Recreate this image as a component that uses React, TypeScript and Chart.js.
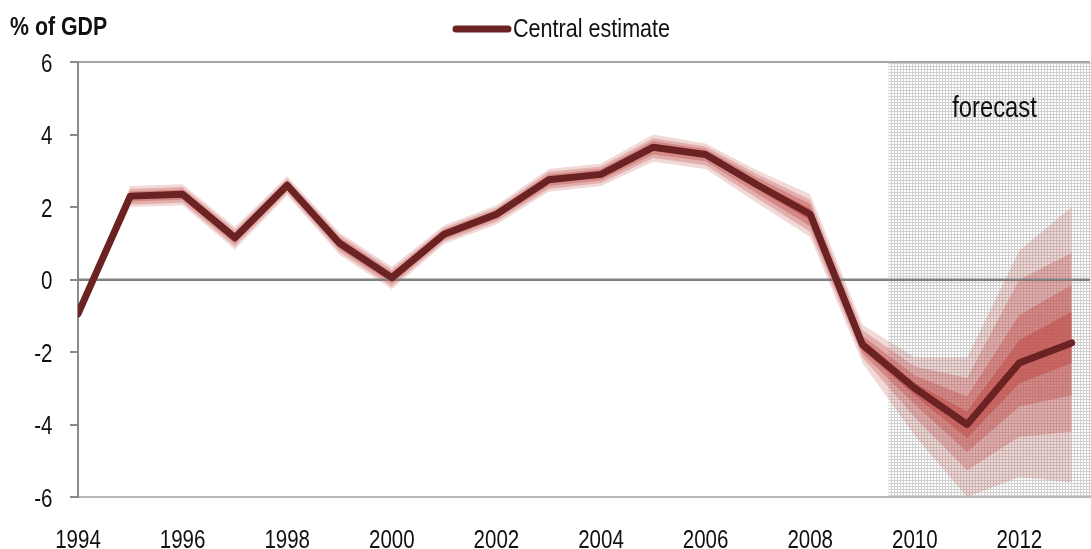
import React, { useEffect, useRef } from "react";
import { Chart, registerables } from "chart.js";

Chart.register(...registerables);

const years = [1994, 1995, 1996, 1997, 1998, 1999, 2000, 2001, 2002, 2003, 2004, 2005, 2006, 2007, 2008, 2009, 2010, 2011, 2012, 2013];
const xTickYears = [1994, 1996, 1998, 2000, 2002, 2004, 2006, 2008, 2010, 2012];
const yTickValues = [-6, -4, -2, 0, 2, 4, 6];
const forecastStart = 2009.5;

const central = [-0.95, 2.3, 2.35, 1.15, 2.6, 1.0, 0.05, 1.25, 1.8, 2.75, 2.9, 3.65, 3.45, 2.6, 1.8, -1.8, -3.0, -4.0, -2.3, -1.75];

const upper4 = [-0.85, 2.58, 2.63, 1.45, 2.85, 1.3, 0.35, 1.5, 2.05, 3.05, 3.2, 4.0, 3.75, 3.0, 2.35, -1.25, -2.15, -2.15, 0.8, 2.0];
const upper3 = [-0.88, 2.5, 2.55, 1.37, 2.78, 1.22, 0.27, 1.43, 1.98, 2.97, 3.12, 3.9, 3.67, 2.9, 2.2, -1.4, -2.4, -2.72, 0.0, 0.73];
const upper2 = [-0.9, 2.43, 2.48, 1.3, 2.72, 1.15, 0.2, 1.37, 1.92, 2.9, 3.05, 3.82, 3.6, 2.8, 2.08, -1.55, -2.65, -3.23, -0.98, -0.15];
const upper1 = [-0.92, 2.37, 2.42, 1.22, 2.66, 1.08, 0.12, 1.31, 1.86, 2.83, 2.98, 3.74, 3.53, 2.7, 1.95, -1.65, -2.85, -3.65, -1.67, -0.89];
const lower1 = [-0.98, 2.22, 2.27, 1.07, 2.53, 0.92, -0.03, 1.18, 1.73, 2.66, 2.82, 3.55, 3.36, 2.48, 1.63, -1.95, -3.2, -4.37, -2.86, -2.3];
const lower2 = [-1.0, 2.15, 2.2, 0.99, 2.46, 0.84, -0.11, 1.12, 1.66, 2.58, 2.74, 3.45, 3.26, 2.36, 1.47, -2.05, -3.45, -4.76, -3.5, -3.19];
const lower3 = [-1.02, 2.07, 2.12, 0.91, 2.39, 0.76, -0.19, 1.05, 1.59, 2.5, 2.66, 3.35, 3.15, 2.23, 1.32, -2.15, -3.8, -5.26, -4.34, -4.2];
const lower4 = [-1.05, 2.0, 2.05, 0.83, 2.32, 0.68, -0.27, 0.98, 1.52, 2.42, 2.58, 3.25, 3.05, 2.1, 1.17, -2.3, -4.3, -6.0, -5.45, -5.59];

const FONT = "'Liberation Sans', Arial, sans-serif";
const NARROW = 0.82;
const LINE_COLOR = "#6b2222";
const BAND_RGB = "192,80,77";

const pts = (arr: number[]) => years.map((y, i) => ({ x: y, y: arr[i] }));

function narrowText(ctx: CanvasRenderingContext2D, text: string, x: number, y: number, font: string, align: CanvasTextAlign, sx = NARROW) {
  ctx.save();
  ctx.font = font;
  ctx.textAlign = align;
  ctx.textBaseline = "alphabetic";
  ctx.translate(x, y);
  ctx.scale(sx, 1);
  ctx.fillText(text, 0, 0);
  ctx.restore();
}

export default function App() {
  const ref = useRef<HTMLCanvasElement | null>(null);

  useEffect(() => {
    document.body.style.margin = "0";
    const canvas = ref.current;
    if (!canvas) return;

    const tile = document.createElement("canvas");
    tile.width = 3;
    tile.height = 3;
    const tctx = tile.getContext("2d")!;
    tctx.fillStyle = "#ffffff";
    tctx.fillRect(0, 0, 3, 3);
    tctx.fillStyle = "#cfcfcf";
    tctx.fillRect(0, 0, 3, 1);
    tctx.fillRect(0, 0, 1, 3);

    const decorPlugin = {
      id: "decor",
      beforeDraw(chart: any) {
        const { ctx, chartArea, scales } = chart;
        const x0 = scales.x.getPixelForValue(forecastStart);
        const pattern = ctx.createPattern(tile, "repeat");
        ctx.save();
        ctx.fillStyle = pattern;
        ctx.fillRect(x0, chartArea.top, chartArea.right - x0 + 1, chartArea.bottom - chartArea.top);
        ctx.restore();
      },
      afterDatasetDraw(chart: any, args: any) {
        if (args.index !== 1) return;
        const { ctx, chartArea, scales } = chart;
        const y0 = scales.y.getPixelForValue(0);
        ctx.save();
        ctx.strokeStyle = "#808080";
        ctx.lineWidth = 2;
        ctx.beginPath();
        ctx.moveTo(chartArea.left, y0);
        ctx.lineTo(chartArea.right, y0);
        ctx.stroke();
        ctx.restore();
      },
      afterDraw(chart: any) {
        const { ctx, scales } = chart;
        ctx.save();
        ctx.fillStyle = "#111";
        // axis tick labels
        const tickFont = `25px ${FONT}`;
        scales.x.ticks.forEach((t: any) => {
          narrowText(ctx, String(t.value), scales.x.getPixelForValue(t.value), 548, tickFont, "center");
        });
        scales.y.ticks.forEach((t: any) => {
          narrowText(ctx, String(t.value), 52.5, scales.y.getPixelForValue(t.value) + 9.5, tickFont, "right");
        });
        // forecast label
        narrowText(ctx, "forecast", 994.5, 117, `29px ${FONT}`, "center");
        // y-axis title
        narrowText(ctx, "% of GDP", 10, 35, `bold 26px ${FONT}`, "left");
        // legend
        ctx.strokeStyle = LINE_COLOR;
        ctx.lineWidth = 7;
        ctx.lineCap = "round";
        ctx.beginPath();
        ctx.moveTo(456, 29);
        ctx.lineTo(508, 29);
        ctx.stroke();
        narrowText(ctx, "Central estimate", 513, 37, `26px ${FONT}`, "left", 0.83);
        ctx.restore();
      },
    };

    const band = (data: number[], target: number, alpha: number) => ({
      data: pts(data),
      borderWidth: 0,
      pointRadius: 0,
      fill: { target },
      backgroundColor: `rgba(${BAND_RGB},${alpha})`,
      tension: 0,
    });
    const edge = (data: number[]) => ({
      data: pts(data),
      borderWidth: 0,
      pointRadius: 0,
      fill: false,
      tension: 0,
    });

    const chart = new Chart(canvas, {
      type: "line",
      data: {
        datasets: [
          {
            label: "Central estimate",
            data: pts(central),
            borderColor: LINE_COLOR,
            borderWidth: 7,
            pointRadius: 0,
            borderCapStyle: "round",
            borderJoinStyle: "round",
            fill: false,
            tension: 0,
          } as any,
          band(upper1, 2, 0.6) as any,
          edge(lower1) as any,
          band(upper2, 4, 0.4) as any,
          edge(lower2) as any,
          band(upper3, 6, 0.3) as any,
          edge(lower3) as any,
          band(upper4, 8, 0.22) as any,
          edge(lower4) as any,
        ],
      },
      options: {
        animation: false,
        responsive: false,
        maintainAspectRatio: false,
        layout: { padding: { top: 62, right: 1, left: 0, bottom: 0 } },
        plugins: {
          legend: { display: false },
          tooltip: { enabled: false },
          title: { display: false },
        },
        scales: {
          x: {
            type: "linear",
            min: 1994,
            max: 2013.35,
            afterBuildTicks: (scale: any) => {
              scale.ticks = xTickYears.map((v) => ({ value: v }));
            },
            afterFit: (scale: any) => {
              scale.height = 52;
            },
            ticks: { display: false },
            grid: { display: false, drawTicks: false },
            border: { display: true, color: "#b8b8b8", width: 2 },
          },
          y: {
            min: -6,
            max: 6,
            afterBuildTicks: (scale: any) => {
              scale.ticks = yTickValues.map((v) => ({ value: v }));
            },
            afterFit: (scale: any) => {
              scale.width = 78;
            },
            ticks: { display: false },
            grid: {
              color: (ctx: any) =>
                ctx.tick && ctx.tick.value === 0 ? "#808080" : ctx.tick && ctx.tick.value === 6 ? "#a6a6a6" : "rgba(0,0,0,0)",
              lineWidth: 2,
              tickLength: 8,
              tickColor: "#8a8a8a",
              tickWidth: 2,
            },
            border: { display: true, color: "#8a8a8a", width: 2 },
          },
        },
      } as any,
      plugins: [decorPlugin],
    });

    return () => chart.destroy();
  }, []);

  return (
    <div style={{ width: 1091, height: 549 }}>
      <canvas ref={ref} width={1091} height={549} style={{ display: "block" }} />
    </div>
  );
}
